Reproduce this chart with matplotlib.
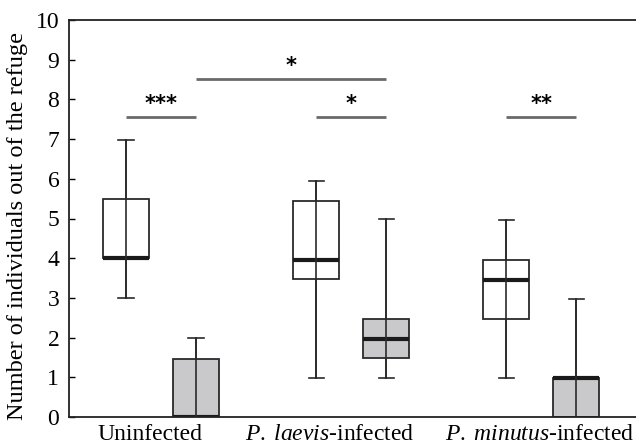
import matplotlib
matplotlib.use("Agg")
import matplotlib.pyplot as plt

groups = ["Uninfected", "P. laevis-infected", "P. minutus-infected"]
# white and grey boxes per group
white_whislo = [3, 0.97, 0.97]
white_q1 = [4, 3.48, 2.48]
white_med = [4, 3.95, 3.44]
white_q3 = [5.48, 5.45, 3.95]
white_whishi = [6.97, 5.95, 4.95]

grey_whislo = [0, 0.98, 0]
grey_q1 = [0, 1.49, 0]
grey_med = [0, 1.97, 0.97]
grey_q3 = [1.47, 2.48, 0.97]
grey_whishi = [1.98, 4.98, 2.97]

yticks = list(range(0, 11))

plt.rcParams['font.family'] = ['Liberation Serif', 'DejaVu Serif']
plt.rcParams['mathtext.fontset'] = 'custom'
plt.rcParams['mathtext.it'] = 'Liberation Serif:italic'
plt.rcParams['mathtext.rm'] = 'Liberation Serif'

fig = plt.figure(figsize=(6.36, 4.46), dpi=100)
ax = fig.add_axes([69/636, 1 - 417/446, 1 - 69/636, (417 - 20)/446])

off = 0.184
width = 0.242
white_pos = [i + 1 - off for i in range(3)]
grey_pos = [i + 1 + off for i in range(3)]

def stats(lo, q1, med, q3, hi):
    return [dict(whislo=a, q1=b, med=c, q3=d, whishi=e, fliers=[])
            for a, b, c, d, e in zip(lo, q1, med, q3, hi)]

common = dict(widths=width, patch_artist=True, showfliers=False,
              whiskerprops=dict(color='#2a2a2a', lw=1.2),
              capprops=dict(color='#2a2a2a', lw=1.2),
              medianprops=dict(color='#1a1a1a', lw=3.0, solid_capstyle='butt'))

bw = ax.bxp(stats(white_whislo, white_q1, white_med, white_q3, white_whishi),
            positions=white_pos,
            boxprops=dict(facecolor='white', edgecolor='#2a2a2a', lw=1.3),
            **common)
bg = ax.bxp(stats(grey_whislo, grey_q1, grey_med, grey_q3, grey_whishi),
            positions=grey_pos,
            boxprops=dict(facecolor='#c9c9cb', edgecolor='#2a2a2a', lw=1.3),
            **common)
for caps in (bw['caps'], bg['caps']):
    for c in caps:
        x = c.get_xdata()
        m = (x[0] + x[1]) / 2
        c.set_xdata([m - 0.04, m + 0.04])
# whisker line drawn through the box, as in the reference
for pos, lo, hi in zip(white_pos + grey_pos, white_whislo + grey_whislo,
                       white_whishi + grey_whishi):
    ax.plot([pos, pos], [lo, hi], color='#2a2a2a', lw=1.2, zorder=3)

ax.set_xlim(0.516, 3.497)
ax.set_ylim(0, 10)
ax.set_yticks(yticks)
ax.set_yticklabels([str(t) for t in yticks], fontsize=17)
ax.tick_params(axis='y', direction='in', length=4, width=1, pad=7)
ax.tick_params(axis='x', length=0, pad=5)

ax.set_xticks([0.942, 1.885, 2.99])
labels = ["Uninfected",
          r"$\it{P.\;laevis}$-infected",
          r"$\it{P.\;minutus}$-infected"]
ax.set_xticklabels(labels, fontsize=17)

ax.spines['right'].set_visible(False)
for s in ('left', 'bottom', 'top'):
    ax.spines[s].set_color('#222222')
    ax.spines[s].set_linewidth(1.3)

ax.set_ylabel("Number of individuals out of the refuge", fontsize=17.5)
ax.yaxis.set_label_coords(-0.072, 0.48)

# significance annotations
sig_lines = [(white_pos[0], grey_pos[0], 7.56, "***"),
             (grey_pos[0], grey_pos[1], 8.51, "*"),
             (white_pos[1], grey_pos[1], 7.56, "*"),
             (white_pos[2], grey_pos[2], 7.56, "**")]
for x0, x1, y, t in sig_lines:
    ax.plot([x0, x1], [y, y], color='#6a6a6a', lw=2, solid_capstyle='butt')
    ax.text((x0 + x1) / 2, y + 0.08, t, ha='center', va='bottom',
            fontsize=15, fontweight='bold', family='DejaVu Sans')

fig.savefig("out.png", dpi=100)
